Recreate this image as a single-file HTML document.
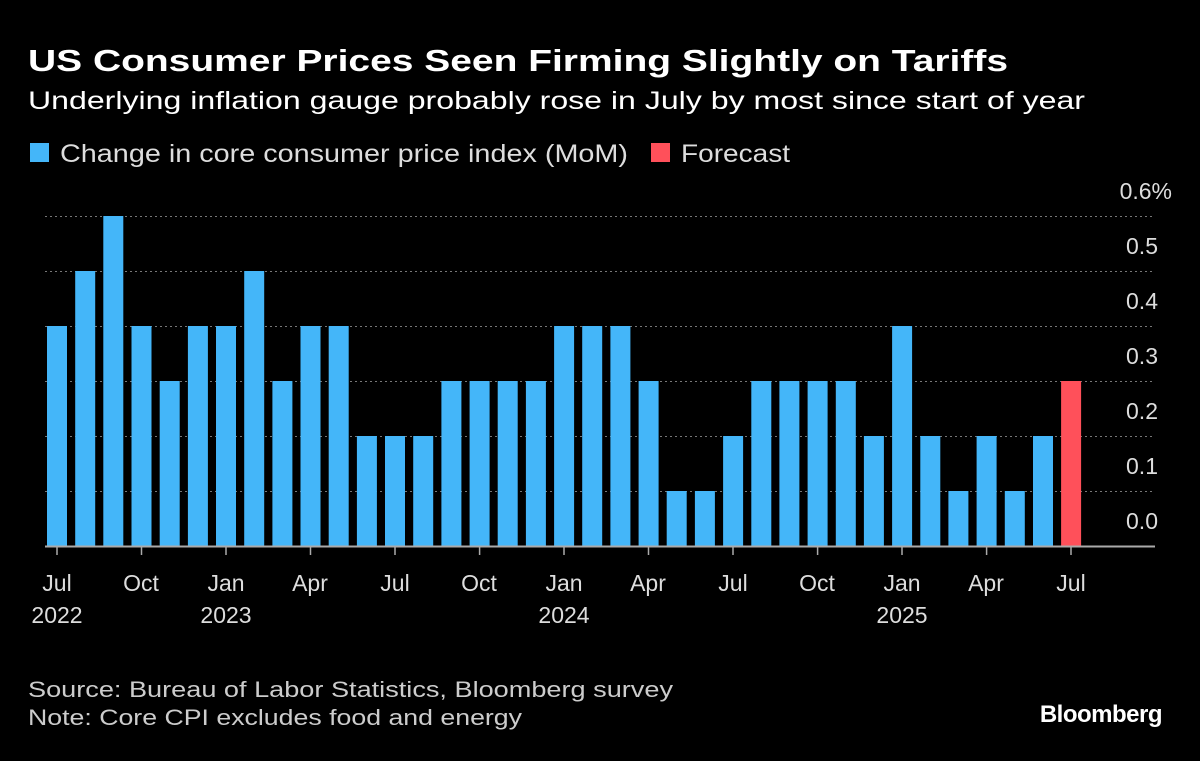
<!DOCTYPE html>
<html><head><meta charset="utf-8">
<style>
html,body{margin:0;padding:0;background:#000;}
body{width:1200px;height:756px;overflow:hidden;font-family:"Liberation Sans",sans-serif;color:#fff;}
</style></head><body>
<svg width="1200" height="756" xmlns="http://www.w3.org/2000/svg" font-family="Liberation Sans, sans-serif">
<rect width="1200" height="756" fill="#000"/>
<text x="28" y="71" font-size="31" font-weight="bold" fill="#fff" textLength="980" lengthAdjust="spacingAndGlyphs">US Consumer Prices Seen Firming Slightly on Tariffs</text>
<text x="28" y="109" font-size="25" fill="#fff" textLength="1057" lengthAdjust="spacingAndGlyphs">Underlying inflation gauge probably rose in July by most since start of year</text>
<rect x="30" y="143" width="19" height="19" fill="#44b6f9"/>
<text x="60" y="162" font-size="25" fill="#ddd" textLength="568" lengthAdjust="spacingAndGlyphs">Change in core consumer price index (MoM)</text>
<rect x="651" y="143" width="19" height="19" fill="#ff505a"/>
<text x="681" y="162" font-size="25" fill="#ddd" textLength="109" lengthAdjust="spacingAndGlyphs">Forecast</text>
<g stroke="#777" stroke-width="1" stroke-dasharray="2,3">
<line x1="45" x2="1155" y1="216.5" y2="216.5"/>
<line x1="45" x2="1155" y1="271.5" y2="271.5"/>
<line x1="45" x2="1155" y1="326.5" y2="326.5"/>
<line x1="45" x2="1155" y1="381.5" y2="381.5"/>
<line x1="45" x2="1155" y1="436.5" y2="436.5"/>
<line x1="45" x2="1155" y1="491.5" y2="491.5"/>
</g>
<g font-size="23" fill="#ddd" text-anchor="end">
<text x="1172" y="199">0.6%</text>
<text x="1158" y="254">0.5</text>
<text x="1158" y="309">0.4</text>
<text x="1158" y="364">0.3</text>
<text x="1158" y="419">0.2</text>
<text x="1158" y="474">0.1</text>
<text x="1158" y="529">0.0</text>
</g>
<g fill="#44b6f9">
<rect x="47.0" y="326" width="20" height="220"/>
<rect x="75.2" y="271" width="20" height="275"/>
<rect x="103.3" y="216" width="20" height="330"/>
<rect x="131.5" y="326" width="20" height="220"/>
<rect x="159.7" y="381" width="20" height="165"/>
<rect x="187.9" y="326" width="20" height="220"/>
<rect x="216.0" y="326" width="20" height="220"/>
<rect x="244.2" y="271" width="20" height="275"/>
<rect x="272.4" y="381" width="20" height="165"/>
<rect x="300.5" y="326" width="20" height="220"/>
<rect x="328.7" y="326" width="20" height="220"/>
<rect x="356.9" y="436" width="20" height="110"/>
<rect x="385.0" y="436" width="20" height="110"/>
<rect x="413.2" y="436" width="20" height="110"/>
<rect x="441.4" y="381" width="20" height="165"/>
<rect x="469.6" y="381" width="20" height="165"/>
<rect x="497.7" y="381" width="20" height="165"/>
<rect x="525.9" y="381" width="20" height="165"/>
<rect x="554.1" y="326" width="20" height="220"/>
<rect x="582.2" y="326" width="20" height="220"/>
<rect x="610.4" y="326" width="20" height="220"/>
<rect x="638.6" y="381" width="20" height="165"/>
<rect x="666.7" y="491" width="20" height="55"/>
<rect x="694.9" y="491" width="20" height="55"/>
<rect x="723.1" y="436" width="20" height="110"/>
<rect x="751.3" y="381" width="20" height="165"/>
<rect x="779.4" y="381" width="20" height="165"/>
<rect x="807.6" y="381" width="20" height="165"/>
<rect x="835.8" y="381" width="20" height="165"/>
<rect x="863.9" y="436" width="20" height="110"/>
<rect x="892.1" y="326" width="20" height="220"/>
<rect x="920.3" y="436" width="20" height="110"/>
<rect x="948.4" y="491" width="20" height="55"/>
<rect x="976.6" y="436" width="20" height="110"/>
<rect x="1004.8" y="491" width="20" height="55"/>
<rect x="1033.0" y="436" width="20" height="110"/>
</g>
<rect x="1061.1" y="381" width="20" height="165" fill="#ff505a"/>
<line x1="45" x2="1155" y1="546.5" y2="546.5" stroke="#aaa" stroke-width="2"/>
<g stroke="#aaa" stroke-width="1.5">
<line x1="57" x2="57" y1="547" y2="555"/>
<line x1="141.5" x2="141.5" y1="547" y2="555"/>
<line x1="226" x2="226" y1="547" y2="555"/>
<line x1="310.5" x2="310.5" y1="547" y2="555"/>
<line x1="395" x2="395" y1="547" y2="555"/>
<line x1="479.6" x2="479.6" y1="547" y2="555"/>
<line x1="564" x2="564" y1="547" y2="555"/>
<line x1="648.5" x2="648.5" y1="547" y2="555"/>
<line x1="733" x2="733" y1="547" y2="555"/>
<line x1="817.6" x2="817.6" y1="547" y2="555"/>
<line x1="902" x2="902" y1="547" y2="555"/>
<line x1="986.6" x2="986.6" y1="547" y2="555"/>
<line x1="1071" x2="1071" y1="547" y2="555"/>
</g>
<g font-size="23" fill="#ddd" text-anchor="middle">
<text x="57" y="591">Jul</text><text x="57" y="623">2022</text>
<text x="141" y="591">Oct</text>
<text x="226" y="591">Jan</text><text x="226" y="623">2023</text>
<text x="310" y="591">Apr</text>
<text x="395" y="591">Jul</text>
<text x="479" y="591">Oct</text>
<text x="564" y="591">Jan</text><text x="564" y="623">2024</text>
<text x="648" y="591">Apr</text>
<text x="733" y="591">Jul</text>
<text x="817" y="591">Oct</text>
<text x="902" y="591">Jan</text><text x="902" y="623">2025</text>
<text x="986" y="591">Apr</text>
<text x="1071" y="591">Jul</text>
</g>
<text x="28" y="697" font-size="22" fill="#ccc" textLength="645" lengthAdjust="spacingAndGlyphs">Source: Bureau of Labor Statistics, Bloomberg survey</text>
<text x="28" y="725" font-size="22" fill="#ccc" textLength="494" lengthAdjust="spacingAndGlyphs">Note: Core CPI excludes food and energy</text>
<text x="1162" y="722" font-size="24" font-weight="bold" fill="#fff" text-anchor="end" letter-spacing="-0.5">Bloomberg</text>
</svg>
</body></html>
